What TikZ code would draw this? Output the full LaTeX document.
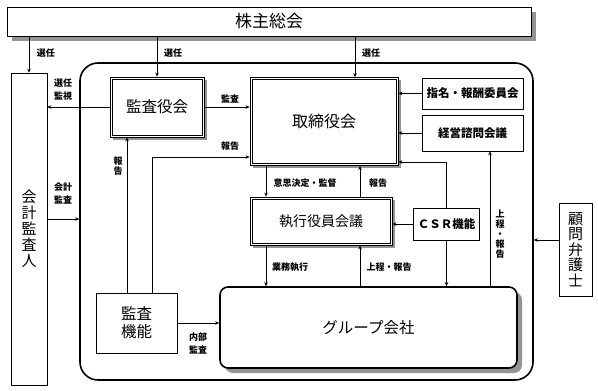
\documentclass[tikz,border=0pt]{standalone}
\usepackage{fontspec}
\setmainfont{Noto Sans CJK JP}
\usetikzlibrary{arrows.meta,shadows}
\newcommand\jfs[2]{\fontsize{#1}{#2}\selectfont}
\tikzset{
  box/.style={draw,fill=white,inner sep=0pt,align=center},
  shd/.style={drop shadow={shadow xshift=#1,shadow yshift=-#1,fill=black!42,opacity=1}},
  dbox/.style={box,line width=.8pt,shd=2.5pt},
  lbl/.style={font=\jfs{9}{13}\bfseries,inner sep=0pt,align=center},
  vlbl/.style={lbl,font=\jfs{9}{10}\bfseries},
  arr/.style={-{Stealth[length=4pt,width=3.5pt]}},
}
\begin{document}
\begin{tikzpicture}[x=1pt,y=-1pt,line width=.6pt]
\useasboundingbox(0,0)rectangle(598,391);
% frame of the company
\node[draw,line width=1.6pt,rounded corners=18pt,minimum width=453pt,minimum height=317pt,inner sep=0pt](F)at(306.5,221.5){};
% boxes
\node[box,shd=5pt,minimum width=524pt,minimum height=29pt,font=\jfs{17}{17}](S)at(269,21.5){株主総会};
\node[box,minimum width=36pt,minimum height=312pt,font=\jfs{15}{16}](K)at(29,229){会\\計\\監\\査\\人};
\node[dbox,minimum width=94pt,minimum height=60pt,font=\jfs{15.5}{16}](KY)at(157,107){監査役会};
\node[dbox,minimum width=148pt,minimum height=88pt,font=\jfs{16}{16}](T)at(324,121.5){取締役会};
\node[box,minimum width=101pt,minimum height=31pt,font=\jfs{11.5}{12}\bfseries](N)at(472.5,93.5){指名・報酬委員会};
\node[box,minimum width=101pt,minimum height=36pt,font=\jfs{11.5}{12}\bfseries](A)at(472.5,133){経営諮問会議};
\node[dbox,minimum width=142pt,minimum height=48pt,font=\jfs{14}{14}](E)at(321,221){執行役員会議};
\node[box,minimum width=66pt,minimum height=32pt,font=\jfs{11.5}{12}\bfseries](C)at(446.5,224){ＣＳＲ機能};
\node[box,shd=5pt,line width=1.6pt,rounded corners=8pt,minimum width=297pt,minimum height=81pt,font=\jfs{15.5}{16}](G)at(368.5,327.5){グループ会社};
\node[box,minimum width=81pt,minimum height=60pt,font=\jfs{15.5}{18}](KK)at(136.5,323){監査\\機能};
\node[box,minimum width=33pt,minimum height=93pt,font=\jfs{15}{15.5}](B)at(575.5,249.5){顧\\問\\弁\\護\\士};
\foreach\b in{KY,T,E}{\draw([shift={(2.2pt,-2.2pt)}]\b.north west)rectangle([shift={(-2.2pt,2.2pt)}]\b.south east);}
% connectors
\draw[arr](S.south-|K.north)--(K.north);\draw[arr](S.south-|KY.north)--(KY.north);
\draw[arr]([xshift=31pt]T.north|-S.south)--([xshift=31pt]T.north);
\draw[arr](KY.west)--(KY.west-|K.east);\draw[arr](KY.east)--(KY.east-|T.west);
\draw[arr]([yshift=10pt]K.east)--([yshift=10pt]K.east-|F.west);
\draw[arr]([xshift=-9.5pt]KK.north)--([xshift=-9.5pt]KK.north|-KY.south);
\draw[arr]([xshift=15.5pt]KK.north)|-([yshift=-35.5pt]T.west);
\draw[arr]([xshift=-58pt]T.south)--([xshift=-58pt]T.south|-E.north);
\draw[arr]([xshift=36pt]T.south|-E.north)--([xshift=36pt]T.south);
\draw[arr](N.west)--(N.west-|T.east);\draw[arr](A.west)--(A.west-|T.east);
\draw[arr](C.west)--(C.west-|E.east);\draw[arr](C.north)|-([yshift=-40.5pt]T.east);
\draw[arr](C.south)--(C.south|-G.north);
\draw[arr]([xshift=-55pt]E.south)--([xshift=-55pt]E.south|-G.north);
\draw[arr]([xshift=39pt]E.south|-G.north)--([xshift=39pt]E.south);
\draw[arr]([xshift=17.5pt]A.south|-G.north)--([xshift=17.5pt]A.south);
\draw[arr]([yshift=9.5pt]B.west)--([yshift=9.5pt]B.west-|F.east);
\draw[arr](KK.east)--(KK.east-|G.west);
% labels
\foreach\n/\p/\t in{l1/{46,53}/選任,l2/{173,53}/選任,l3/{371,53}/選任,l4/{63,90}/{選任\\監視},l5/{230,99}/監査,l6/{230,146}/報告,l7/{63,194}/{会計\\監査},l8/{305,183}/意思決定・監督,l9/{378,183}/報告,l10/{290,267}/業務執行,l11/{389,267}/上程・報告,l12/{198,344}/{内部\\監査}}{\node[lbl](\n)at(\p){\t};}
\node[vlbl](l13)at(118,166){報\\告};\node[vlbl](l14)at(500,234){上\\程\\・\\報\\告};
\end{tikzpicture}
\end{document}
